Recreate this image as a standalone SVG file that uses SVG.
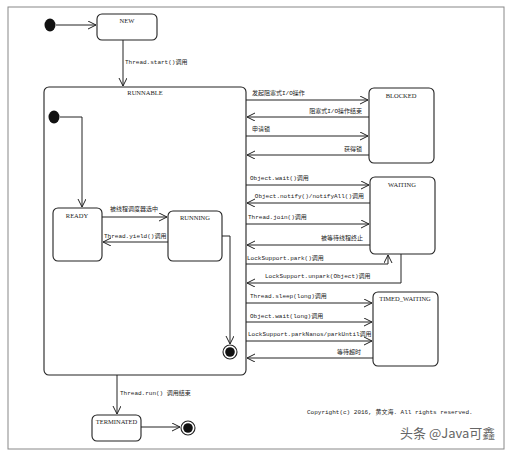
<svg xmlns="http://www.w3.org/2000/svg" width="512" height="455" viewBox="0 0 512 455">
<defs>
<marker id="arr" markerUnits="userSpaceOnUse" markerWidth="10" markerHeight="9" refX="8" refY="4" orient="auto">
<path d="M0,0 L8,4 L0,8" fill="none" stroke="#222" stroke-width="1"/>
</marker>
<style>
.box{fill:#fff;stroke:#222;stroke-width:1.1}
.ln{fill:none;stroke:#222;stroke-width:1;marker-end:url(#arr)}
.t{font-family:"Liberation Mono","Noto Sans CJK SC",monospace;font-size:6px;fill:#222}
.n{font-family:"Liberation Serif","Noto Sans CJK SC",serif;font-size:6.5px;fill:#222;text-anchor:middle}
.r{text-anchor:end}
</style>
</defs>
<rect x="0" y="0" width="512" height="455" fill="#fff"/>
<rect x="8" y="7" width="496" height="442" fill="none" stroke="#888" stroke-width="1"/>

<g id="start"><ellipse cx="50" cy="25" rx="5.5" ry="6.5" fill="#111"/></g>
<g id="NEW"><rect class="box" x="97" y="14" width="60" height="26" rx="5"/><text class="n" x="127" y="23">NEW</text></g>
<g id="RUNNABLE"><rect class="box" x="44" y="87" width="202" height="288" rx="5"/><text class="n" x="145" y="95">RUNNABLE</text></g>
<g id="inner-start"><ellipse cx="54" cy="117" rx="5.5" ry="6.5" fill="#111"/></g>
<g id="READY"><rect class="box" x="53" y="208" width="49" height="53" rx="5"/><text class="n" x="77" y="218">READY</text></g>
<g id="RUNNING"><rect class="box" x="168" y="211" width="54" height="50" rx="5"/><text class="n" x="195" y="220">RUNNING</text></g>
<g id="inner-end"><circle cx="230" cy="352" r="7" fill="#fff" stroke="#222" stroke-width="1.1"/><circle cx="230" cy="352" r="4.8" fill="#111"/></g>
<g id="TERMINATED"><rect class="box" x="92" y="415" width="49" height="26" rx="5"/><text class="n" x="116.5" y="424">TERMINATED</text></g>
<g id="end"><circle cx="188" cy="428" r="7" fill="#fff" stroke="#222" stroke-width="1.1"/><circle cx="188" cy="428" r="4.8" fill="#111"/></g>
<g id="BLOCKED"><rect class="box" x="369" y="88" width="65" height="75" rx="5"/><text class="n" x="401" y="98">BLOCKED</text></g>
<g id="WAITING"><rect class="box" x="370" y="177" width="65" height="77" rx="5"/><text class="n" x="402" y="187">WAITING</text></g>
<g id="TIMED_WAITING"><rect class="box" x="373" y="292" width="65" height="74" rx="5"/><text class="n" x="405" y="301">TIMED_WAITING</text></g>

<g id="connectors">
<path class="ln" d="M56,25 H96"/>
<path class="ln" d="M123,40 V86"/>
<path class="ln" d="M60,117 H82 V207"/>
<path class="ln" d="M102,217 H167"/>
<path class="ln" d="M168,242 H103"/>
<path class="ln" d="M222,236 H230 V344"/>
<path class="ln" d="M117,375 V414"/>
<path class="ln" d="M141,427 H180"/>
<path class="ln" d="M246,100 H368"/>
<path class="ln" d="M369,117 H247"/>
<path class="ln" d="M246,136 H368"/>
<path class="ln" d="M369,155 H247"/>
<path class="ln" d="M246,185 H369"/>
<path class="ln" d="M370,203 H247"/>
<path class="ln" d="M246,224 H369"/>
<path class="ln" d="M370,245 H247"/>
<path class="ln" d="M246,264 H388 V255"/>
<path class="ln" d="M401,254 V283 H247"/>
<path class="ln" d="M246,303 H372"/>
<path class="ln" d="M246,322 H372"/>
<path class="ln" d="M246,341 H372"/>
<path class="ln" d="M373,358 H247"/>
</g>

<g id="labels">
<text class="t" x="125" y="64">Thread.start()调用</text>
<text class="t" x="110" y="211">被线程调度器选中</text>
<text class="t" x="104" y="238">Thread.yield()调用</text>
<text class="t" x="120" y="395">Thread.run() 调用结束</text>
<text class="t" x="252" y="95">发起阻塞式I/O操作</text>
<text class="t r" x="362" y="113">阻塞式I/O操作结束</text>
<text class="t" x="252" y="131">申请锁</text>
<text class="t r" x="362" y="151">获得锁</text>
<text class="t" x="250" y="180">Object.wait()调用</text>
<text class="t r" x="364" y="198">Object.notify()/notifyAll()调用</text>
<text class="t" x="248" y="219">Thread.join()调用</text>
<text class="t r" x="363" y="240">被等待线程终止</text>
<text class="t" x="247" y="260">LockSupport.park()调用</text>
<text class="t" x="265" y="278">LockSupport.unpark(Object)调用</text>
<text class="t" x="250" y="298">Thread.sleep(long)调用</text>
<text class="t" x="250" y="318">Object.wait(long)调用</text>
<text class="t" x="248" y="336">LockSupport.parkNanos/parkUntil调用</text>
<text class="t r" x="361" y="354">等待超时</text>
<text class="t" x="307" y="414">Copyright(c) 2016, 黄文海. All rights reserved.</text>
<text x="400" y="438" font-family="'Noto Sans CJK SC',sans-serif" font-size="13" fill="#666">头条 @Java可鑫</text>
</g>
</svg>
